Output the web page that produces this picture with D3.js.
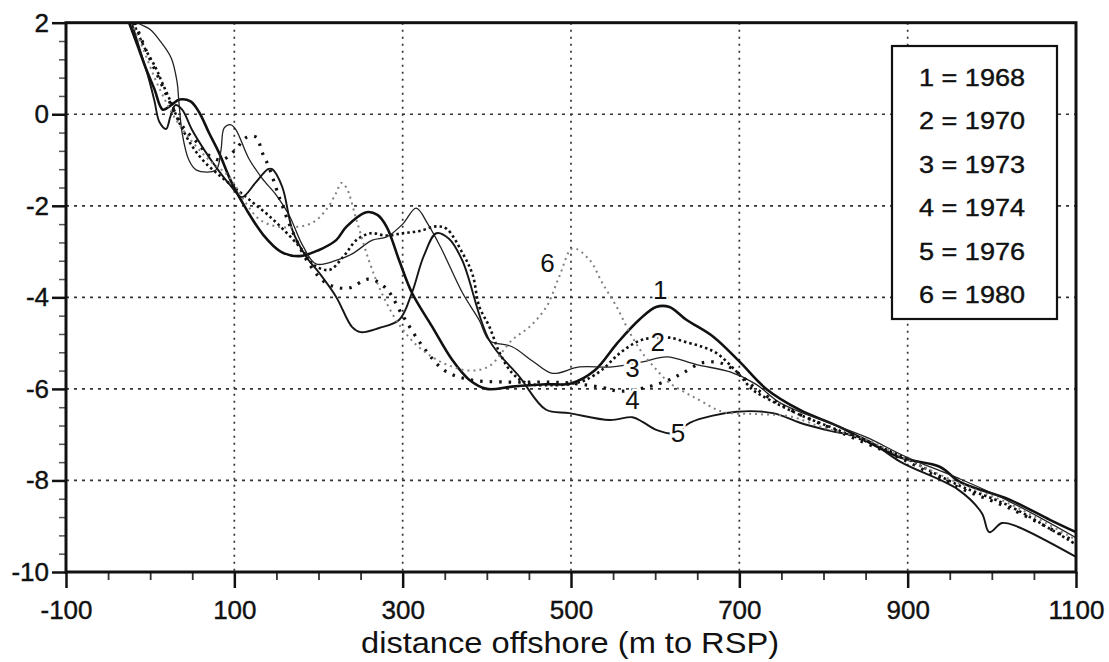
<!DOCTYPE html>
<html>
<head>
<meta charset="utf-8">
<script src="https://cdn.jsdelivr.net/npm/d3@7"></script>
<style>
  body { margin: 0; background: #fff; }
  svg { display: block; font-family: "Liberation Sans", Arial, sans-serif; }
</style>
</head>
<body>
<script>
// profile data: [distance offshore (m), elevation (m)]
var p1968 = [[-25,2],[-15,1.5],[-5,1.0],[5,0.55],[15,0.1],[25,0.2],[35,0.32],[48,0.28],[58,0.05],[70,-0.41],[82,-0.85],[97,-1.5],[115,-2.1],[135,-2.65],[155,-3.0],[177,-3.1],[200,-2.97],[221,-2.75],[233,-2.46],[257,-2.14],[270,-2.2],[281,-2.46],[296,-3.2],[311,-3.9],[335,-4.64],[359,-5.37],[379,-5.8],[400,-6.0],[430,-5.95],[470,-5.9],[500,-5.88],[528,-5.6],[555,-5.0],[581,-4.49],[601,-4.21],[617,-4.21],[637,-4.49],[669,-4.86],[700,-5.4],[732,-6.0],[772,-6.46],[819,-6.83],[890,-7.49],[938,-7.7],[962,-8.03],[1021,-8.42],[1069,-8.86],[1100,-9.13]];
var p1970 = [[-20,2],[-8,1.5],[7,1.0],[14,0.7],[25,0.25],[35,-0.2],[50,-0.7],[65,-1.05],[80,-1.3],[100,-1.6],[120,-1.9],[140,-2.2],[160,-2.55],[180,-2.95],[195,-3.3],[213,-3.4],[230,-3.1],[245,-2.75],[262,-2.6],[280,-2.65],[300,-2.6],[320,-2.55],[340,-2.45],[352,-2.5],[371,-3.03],[383,-3.5],[391,-4.2],[403,-4.64],[415,-5.2],[430,-5.65],[447,-5.87],[480,-5.92],[506,-5.87],[518,-5.8],[537,-5.58],[558,-5.22],[581,-4.95],[600,-4.88],[617,-4.88],[637,-4.98],[656,-5.08],[673,-5.22],[697,-5.63],[716,-6.02],[736,-6.24],[770,-6.55],[820,-6.92],[890,-7.45],[960,-8.1],[1020,-8.55],[1100,-9.4]];
var p1973 = [[-15,2],[-10,1.95],[0,1.85],[11,1.62],[25,1.23],[32,0.7],[34,0.3],[38,-0.41],[46,-1.0],[55,-1.22],[78,-1.22],[84,-0.8],[88,-0.3],[96,-0.23],[102,-0.34],[117,-0.96],[133,-1.4],[150,-1.77],[165,-2.2],[181,-2.86],[197,-3.27],[220,-3.2],[240,-3.05],[264,-2.75],[281,-2.68],[300,-2.4],[316,-2.05],[330,-2.4],[345,-2.9],[371,-3.9],[391,-4.5],[403,-4.94],[430,-5.08],[455,-5.4],[478,-5.66],[510,-5.52],[549,-5.52],[585,-5.41],[614,-5.3],[649,-5.47],[689,-5.63],[720,-5.9],[748,-6.3],[800,-6.7],[850,-7.05],[900,-7.5],[960,-7.95],[1020,-8.45],[1100,-9.25]];
var p1974 = [[-18,2],[-5,1.4],[10,0.8],[25,0.2],[40,-0.3],[55,-0.6],[70,-0.9],[85,-1.0],[100,-0.8],[115,-0.5],[126,-0.5],[133,-0.83],[141,-1.15],[155,-1.9],[170,-2.6],[190,-3.3],[210,-3.7],[235,-3.8],[260,-3.6],[280,-3.8],[300,-4.4],[325,-5.1],[350,-5.6],[380,-5.8],[420,-5.85],[470,-5.85],[498,-5.87],[537,-5.97],[558,-6.05],[593,-5.95],[617,-5.8],[633,-5.65],[656,-5.43],[677,-5.43],[697,-5.63],[720,-6.0],[760,-6.45],[820,-6.95],[890,-7.5],[960,-8.15],[1020,-8.6],[1100,-9.35]];
var p1976 = [[-22,2],[-12,1.4],[-2,0.8],[5,0.3],[11,-0.17],[19,-0.32],[24,-0.05],[30,0.2],[38,0.1],[50,-0.35],[65,-0.8],[80,-1.2],[95,-1.55],[109,-1.81],[125,-1.5],[140,-1.2],[145,-1.2],[157,-1.59],[169,-2.53],[185,-3.1],[201,-3.47],[221,-3.99],[240,-4.65],[250,-4.76],[272,-4.67],[296,-4.49],[311,-3.9],[325,-3.1],[340,-2.6],[355,-2.72],[371,-3.2],[403,-4.94],[439,-5.74],[470,-6.45],[498,-6.53],[546,-6.68],[573,-6.62],[585,-6.72],[602,-6.9],[625,-6.97],[641,-6.74],[697,-6.5],[740,-6.53],[772,-6.74],[804,-6.9],[850,-7.1],[892,-7.6],[960,-8.2],[988,-8.71],[997,-9.13],[1012,-8.93],[1029,-9.0],[1100,-9.67]];
var p1980 = [[-22,2],[-10,1.5],[10,0.6],[30,-0.1],[50,-0.6],[70,-1.0],[94,-1.37],[114,-1.95],[130,-2.3],[150,-2.45],[174,-2.46],[193,-2.37],[209,-2.09],[221,-1.72],[227,-1.5],[233,-1.6],[245,-2.3],[260,-3.2],[275,-3.9],[296,-4.6],[320,-5.1],[350,-5.45],[380,-5.6],[403,-5.5],[430,-4.93],[451,-4.64],[471,-4.2],[486,-3.55],[502,-2.93],[522,-3.18],[537,-3.68],[554,-4.2],[570,-4.78],[585,-5.22],[602,-5.59],[617,-5.87],[637,-6.09],[656,-6.28],[680,-6.5],[720,-6.55],[760,-6.6],[800,-6.85],[850,-7.1],[900,-7.55],[960,-8.05],[1020,-8.5],[1100,-9.3]];

var profiles = [p1968, p1970, p1973, p1974, p1976, p1980];
var profileIds = ["1", "2", "3", "4", "5", "6"];
var years = ["1968", "1970", "1973", "1974", "1976", "1980"];

// where the little number sits next to each profile
var labelX = [606, 603, 573, 573, 627, 472];
var labelY = [-3.84, -4.97, -5.54, -6.24, -6.96, -3.25];

var xMajor = [-100, 100, 300, 500, 700, 900, 1100];
var yMajor = [2, 0, -2, -4, -6, -8, -10];
var xTitle = "distance offshore (m to RSP)";

// line looks per year
var lineStyle = [
  {stroke: "#111", width: 2.6, dash: null},
  {stroke: "#111", width: 2.6, dash: "2.5,3"},
  {stroke: "#222", width: 1.3, dash: null},
  {stroke: "#111", width: 3.2, dash: "2.5,7"},
  {stroke: "#161616", width: 1.9, dash: null},
  {stroke: "#808080", width: 2, dash: "2,4"}
];

var svg = d3.select("body").append("svg")
  .attr("width", 1109)
  .attr("height", 662);

var x = d3.scaleLinear().domain([-100, 1100]).range([66, 1076]);
var y = d3.scaleLinear().domain([-10, 2]).range([572, 22.7]);

// dotted grid
var grid = svg.append("g");
grid.selectAll(".gx")
  .data(xMajor.slice(1, -1))
  .enter().append("line")
  .attr("x1", d => x(d)).attr("x2", d => x(d))
  .attr("y1", y(2)).attr("y2", y(-10))
  .attr("stroke", "#333").attr("stroke-width", 1.7)
  .attr("stroke-dasharray", "2,5");
grid.selectAll(".gy")
  .data(yMajor.slice(1, -1))
  .enter().append("line")
  .attr("x1", x(-100)).attr("x2", x(1100))
  .attr("y1", d => y(d)).attr("y2", d => y(d))
  .attr("stroke", "#333").attr("stroke-width", 1.7)
  .attr("stroke-dasharray", "3,5");

// minor ticks
var yMinor = d3.range(-10, 2.01, 0.4).filter(v => Math.abs(Math.round(v / 2) * 2 - v) > 0.01);
var xMinor = d3.range(-100, 1101, 50).filter(v => (v + 100) % 200 !== 0);

svg.append("g")
  .attr("transform", "translate(" + x(-100) + ",0)")
  .call(d3.axisLeft(y).tickValues(yMinor).tickSize(7).tickFormat(""))
  .call(g => g.select(".domain").remove())
  .selectAll("line").attr("stroke", "#555").attr("stroke-width", 1.5);

svg.append("g")
  .attr("transform", "translate(0," + y(-10) + ")")
  .call(d3.axisBottom(x).tickValues(xMinor).tickSize(8).tickFormat(""))
  .call(g => g.select(".domain").remove())
  .selectAll("line").attr("stroke", "#333").attr("stroke-width", 1.8);

// major ticks + labels
var yAxisG = svg.append("g")
  .attr("transform", "translate(" + x(-100) + ",0)")
  .call(d3.axisLeft(y).tickValues(yMajor).tickSize(14).tickPadding(3).tickFormat(d => String(d)));
yAxisG.select(".domain").remove();
yAxisG.selectAll("line").attr("stroke", "#111").attr("stroke-width", 2.5);
yAxisG.selectAll("text")
  .attr("fill", "#111")
  .attr("stroke", "#111").attr("stroke-width", 0.4)
  .style("font-size", "26px")
  .style("font-family", "'Liberation Sans', Arial, sans-serif");

var xAxisG = svg.append("g")
  .attr("transform", "translate(0," + y(-10) + ")")
  .call(d3.axisBottom(x).tickValues(xMajor).tickSize(16).tickPadding(13).tickFormat(d => String(d)));
xAxisG.select(".domain").remove();
xAxisG.selectAll("line").attr("stroke", "#111").attr("stroke-width", 2.5);
xAxisG.selectAll("text")
  .attr("fill", "#111")
  .attr("stroke", "#111").attr("stroke-width", 0.4)
  .style("font-size", "26px")
  .style("font-family", "'Liberation Sans', Arial, sans-serif");

// profiles
svg.append("clipPath").attr("id", "plotClip")
  .append("rect")
  .attr("x", x(-100)).attr("y", y(2))
  .attr("width", x(1100) - x(-100)).attr("height", y(-10) - y(2));

var line = d3.line()
  .x(d => x(d[0]))
  .y(d => y(d[1]))
  .curve(d3.curveCatmullRom.alpha(0.5));

var lines = svg.append("g").attr("clip-path", "url(#plotClip)");
profiles.forEach(function(p, i) {
  lines.append("path")
    .datum(p)
    .attr("d", line)
    .attr("fill", "none")
    .attr("stroke", lineStyle[i].stroke)
    .attr("stroke-width", lineStyle[i].width)
    .attr("stroke-dasharray", lineStyle[i].dash)
    .attr("stroke-linejoin", "round");
});

// frame
svg.append("rect")
  .attr("x", x(-100)).attr("y", y(2))
  .attr("width", x(1100) - x(-100)).attr("height", y(-10) - y(2))
  .attr("fill", "none").attr("stroke", "#111").attr("stroke-width", 3);

// numbers on the profiles
svg.append("g").selectAll("text")
  .data(profileIds)
  .enter().append("text")
  .attr("x", (d, i) => x(labelX[i]))
  .attr("y", (d, i) => y(labelY[i]))
  .attr("dy", "0.36em")
  .attr("text-anchor", "middle")
  .attr("font-size", "26px")
  .attr("fill", "#111")
  .attr("stroke", "#fff")
  .attr("stroke-width", 5)
  .attr("paint-order", "stroke")
  .text(d => d);

// legend box
var legend = svg.append("g");
legend.append("rect")
  .attr("x", 892).attr("y", 46)
  .attr("width", 165).attr("height", 273)
  .attr("fill", "#fff").attr("stroke", "#111").attr("stroke-width", 2.2);
legend.selectAll("text")
  .data(years)
  .enter().append("text")
  .attr("x", 919)
  .attr("y", (d, i) => 86 + i * 43.4)
  .attr("font-size", "24px")
  .attr("fill", "#111")
  .attr("stroke", "#111").attr("stroke-width", 0.4)
  .attr("textLength", 106)
  .attr("lengthAdjust", "spacingAndGlyphs")
  .text((d, i) => profileIds[i] + " = " + d);

// axis title
svg.append("text")
  .attr("x", 570)
  .attr("y", 653)
  .attr("text-anchor", "middle")
  .attr("font-size", "30px")
  .attr("fill", "#111")
  .attr("textLength", 418)
  .attr("lengthAdjust", "spacingAndGlyphs")
  .text(xTitle);
</script>
</body>
</html>
